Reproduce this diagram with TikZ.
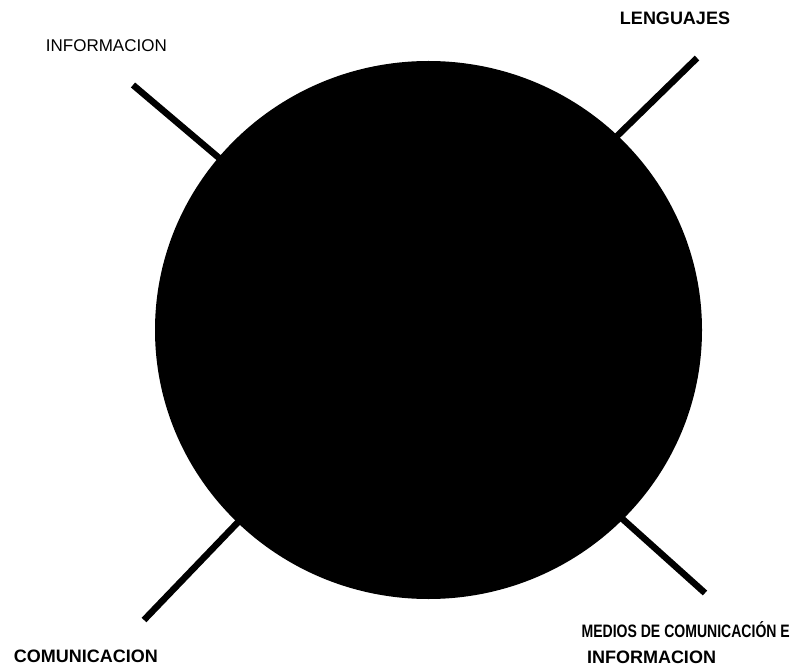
\documentclass[tikz,border=0pt]{standalone}
\usepackage{fontspec}
\setmainfont{Liberation Sans}
\usetikzlibrary{shapes.geometric}
\begin{document}
\begin{tikzpicture}[x=1pt,y=-1pt,
  spoke/.style={line width=6.5pt},
  lab/.style={inner sep=0pt,font=\fontsize{17}{20}\selectfont},
  blab/.style={inner sep=0pt,font=\fontsize{18}{21}\selectfont\bfseries}]
\useasboundingbox (0,0) rectangle (795,671);
\coordinate (a1) at (133,85);  \coordinate (a2) at (225,163);
\coordinate (b1) at (697,58);  \coordinate (b2) at (613,140);
\coordinate (d1) at (242,518); \coordinate (d2) at (144,620);
\coordinate (e1) at (617,514); \coordinate (e2) at (705,593);
\draw[spoke] (a1) -- (a2);
\draw[spoke] (b1) -- (b2);
\draw[spoke] (d1) -- (d2);
\draw[spoke] (e1) -- (e2);
\node[ellipse,fill=black,minimum width=547pt,minimum height=538pt,inner sep=0pt] (c) at (428.5,330) {};
\node[lab,anchor=base east] (t1) at (167,52) {INFORMACION};
\node[blab,anchor=base] (t2) at (675,25) {LENGUAJES};
\node[blab,anchor=base east] (t3) at (158,662) {COMUNICACION};
\node[blab,anchor=base east,xscale=0.78] (t4) at (790,637) {MEDIOS DE COMUNICACIÓN E};
\node[blab,anchor=base] (t5) at (651.5,663) {INFORMACION};
\end{tikzpicture}
\end{document}
